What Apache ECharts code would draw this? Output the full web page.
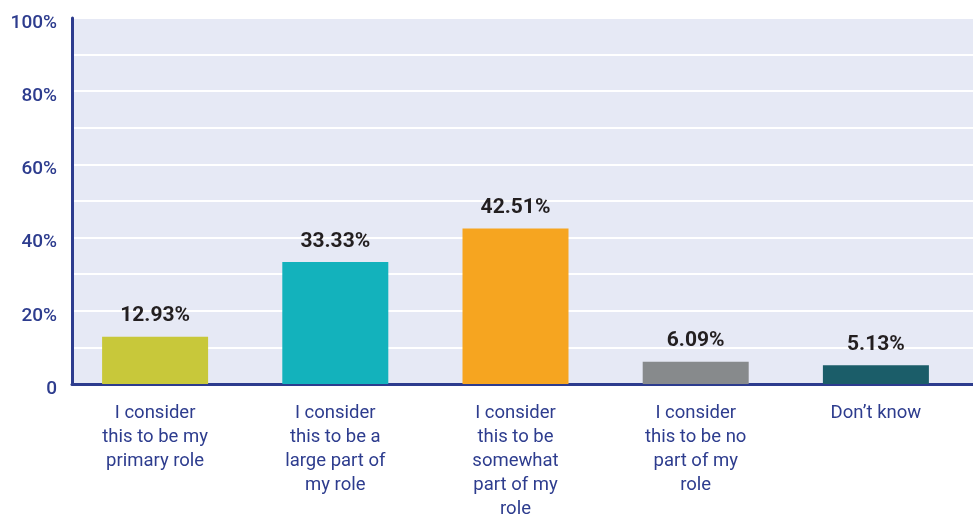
<!DOCTYPE html>
<html>
<head>
<meta charset="utf-8">
<script src="https://cdn.jsdelivr.net/npm/echarts@6/dist/echarts.min.js"></script>
<style>html,body{margin:0;padding:0;background:#fff}#c{width:973px;height:517px}</style>
</head>
<body>
<div id="c"></div>
<script>
var categories = [
  "I consider\nthis to be my\nprimary role",
  "I consider\nthis to be a\nlarge part of\nmy role",
  "I consider\nthis to be\nsomewhat\npart of my\nrole",
  "I consider\nthis to be no\npart of my\nrole",
  "Don\u2019t know"
];
var values = [12.93, 33.33, 42.51, 6.09, 5.13];
var barColors = ["#c8c83a", "#13b2bc", "#f6a520", "#878a8c", "#1b5d69"];
var yTicks = [0, 20, 40, 60, 80, 100];

var FONT = "Roboto";
var BLUE = "#2d3c8e";
var chart = echarts.init(document.getElementById('c'), null, {renderer: 'canvas'});
chart.setOption({
  animation: false,
  grid: [
    {left: 72, right: 0, top: 18, bottom: 133, show: true, backgroundColor: '#e6e9f5', borderWidth: 0,
     containLabel: false, outerBoundsMode: 'none'},
    {left: 65, right: 7, top: 18, bottom: 133, containLabel: false, outerBoundsMode: 'none'}
  ],
  xAxis: [
    {type: 'category', gridIndex: 0, data: categories, axisLine: {lineStyle: {color: BLUE, width: 3}},
     axisTick: {show: false}, axisLabel: {show: false}},
    {type: 'category', gridIndex: 1, data: categories, axisLine: {show: false}, axisTick: {show: false},
     axisLabel: {color: BLUE, fontFamily: FONT, fontSize: 18.5, lineHeight: 24, margin: 17, interval: 0}}
  ],
  yAxis: [
    {type: 'value', gridIndex: 0, min: 0, max: 100, interval: 10,
     axisLine: {show: true, lineStyle: {color: BLUE, width: 3}}, axisTick: {show: false},
     axisLabel: {show: false}, splitLine: {lineStyle: {color: '#ffffff', width: 2}}},
    {type: 'value', gridIndex: 1, min: 0, max: 100, interval: 20,
     axisLine: {show: false}, axisTick: {show: false}, splitLine: {show: false},
     axisLabel: {color: BLUE, fontFamily: FONT, fontSize: 19, fontWeight: 500, margin: 8,
       verticalAlign: 'top', lineHeight: 10,
       formatter: function (v) { return yTicks.indexOf(v) === 0 ? '0' : v + '%'; }}}
  ],
  series: [{
    type: 'bar', xAxisIndex: 1, yAxisIndex: 1, barWidth: 106,
    data: values.map(function (v, i) { return {value: v, itemStyle: {color: barColors[i]}}; }),
    label: {show: true, position: 'top', distance: 10, color: '#231f20', fontFamily: FONT,
      fontWeight: 'bold', fontSize: 21, formatter: function (p) { return p.value.toFixed(2) + '%'; }}
  }]
});
</script>
</body>
</html>
